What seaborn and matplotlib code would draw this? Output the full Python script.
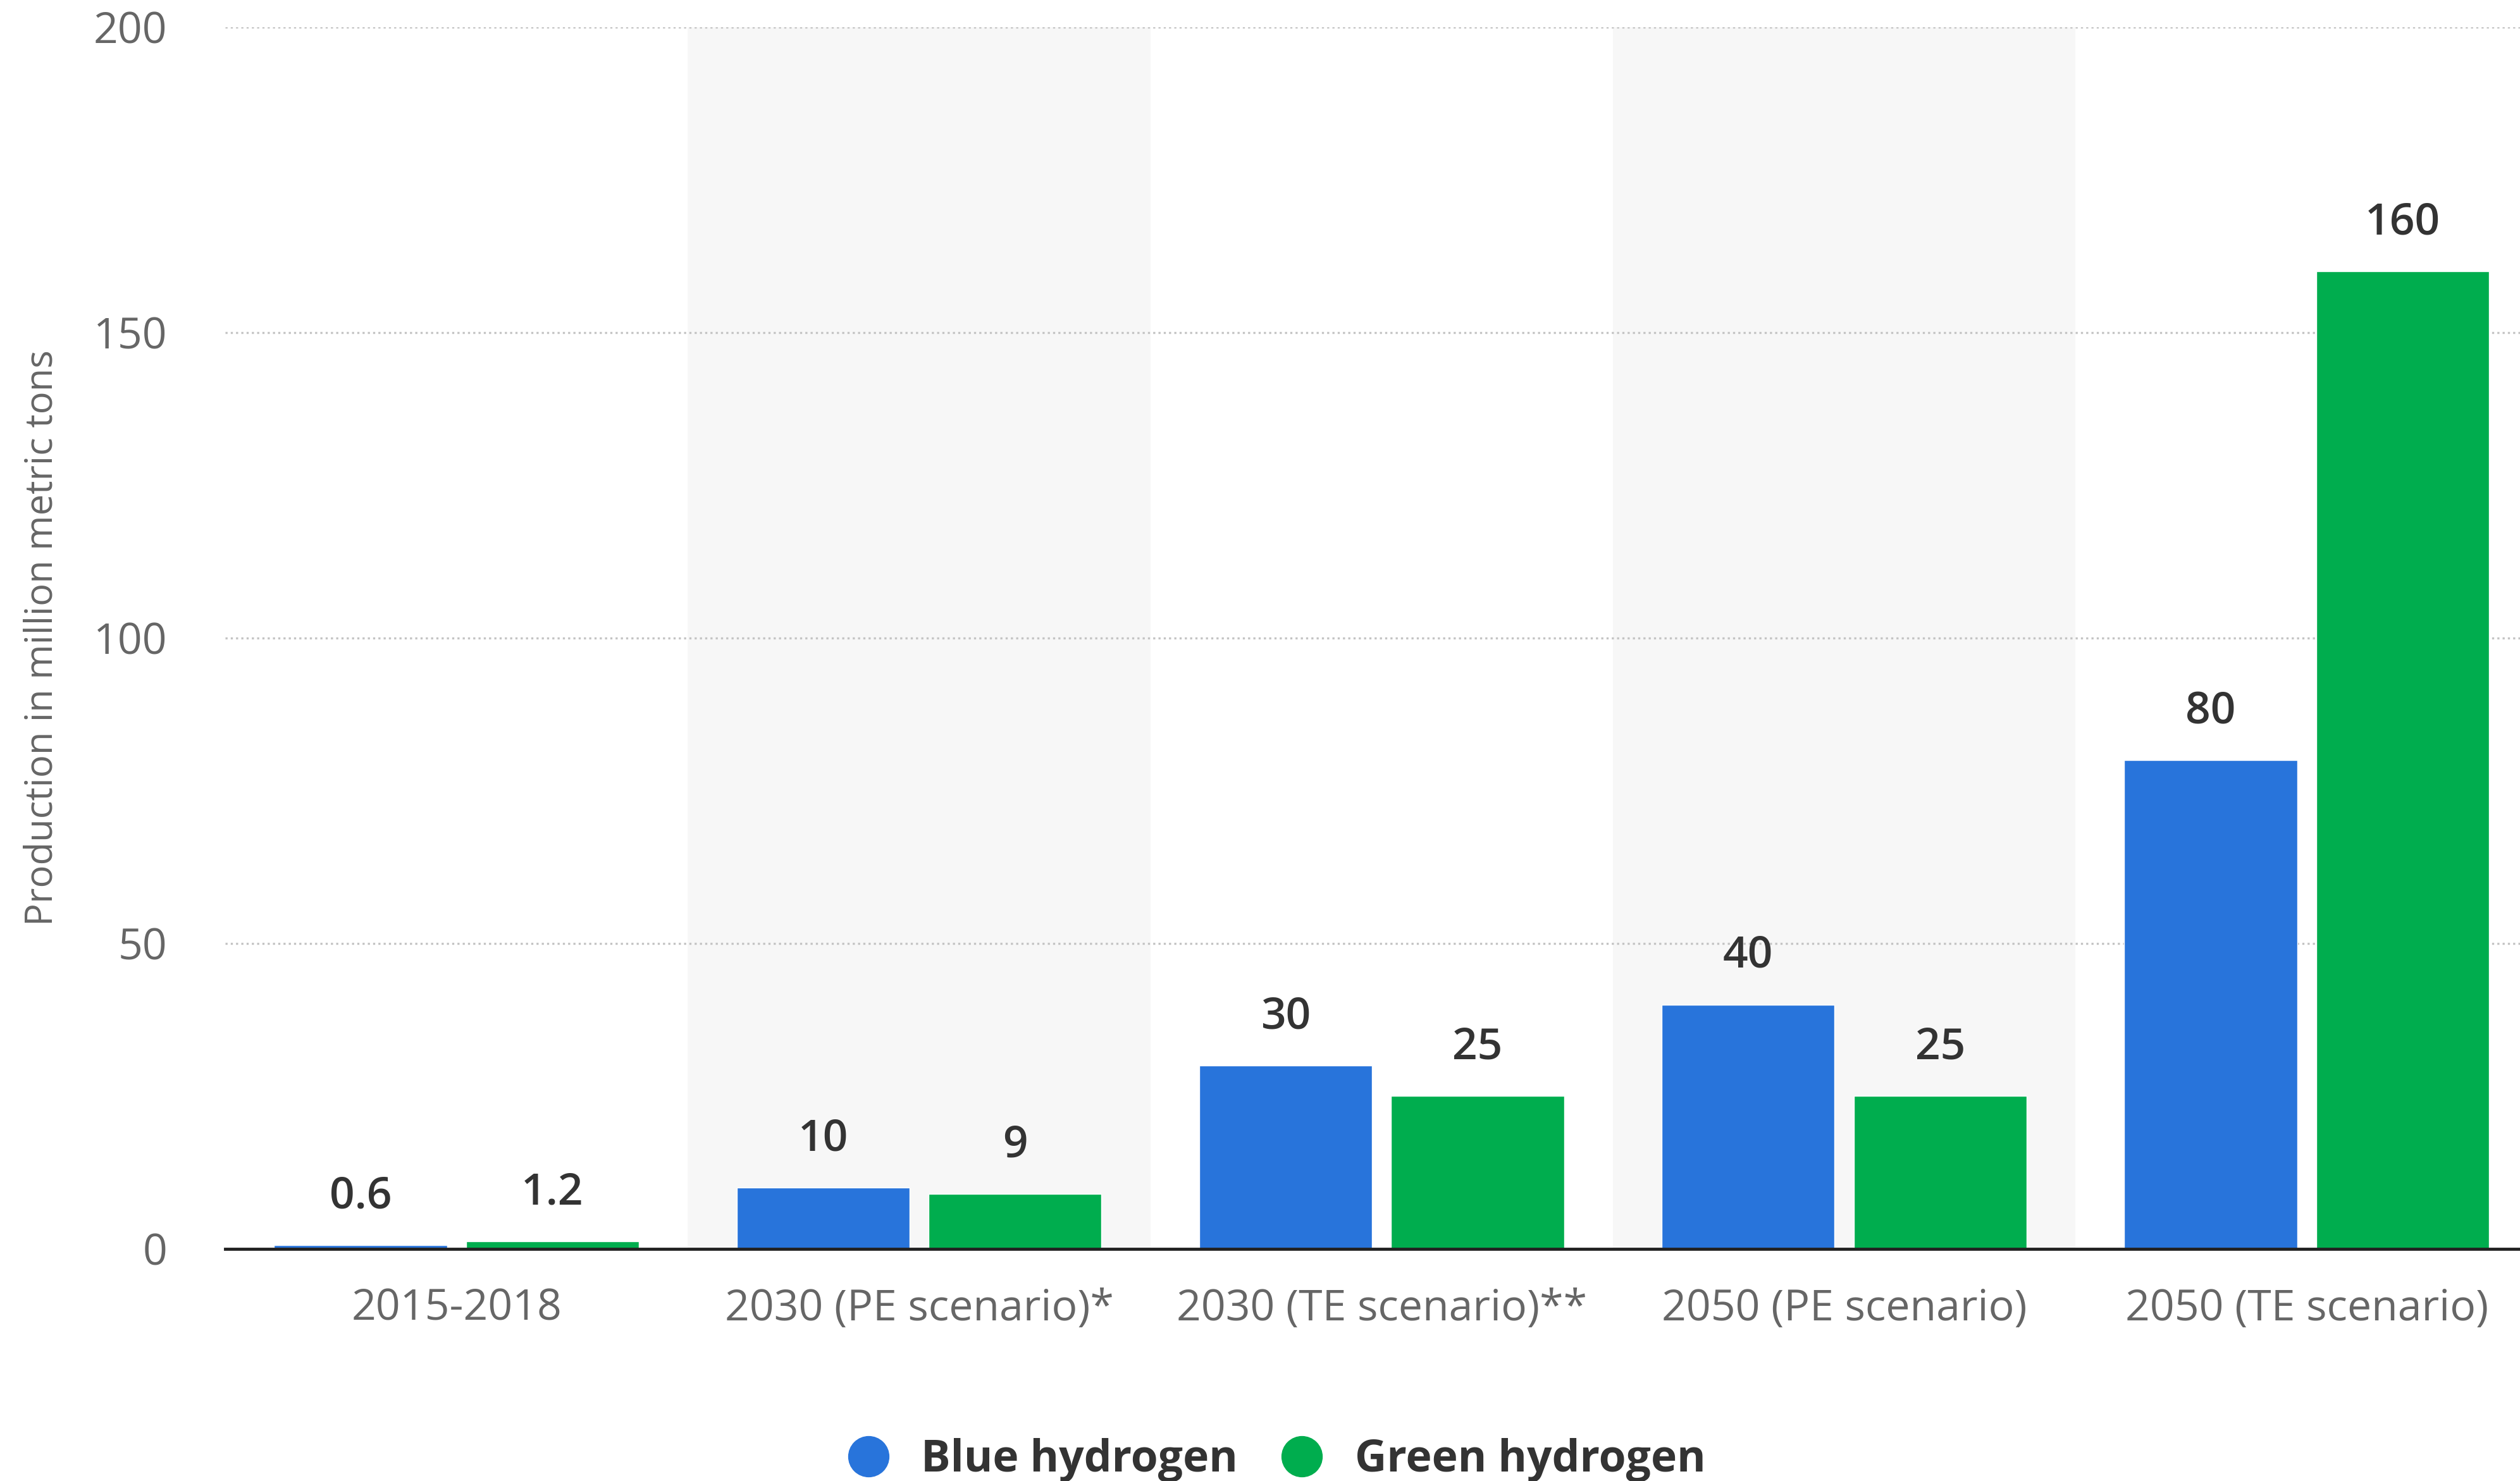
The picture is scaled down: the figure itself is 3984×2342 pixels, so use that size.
import matplotlib
matplotlib.use("Agg")
import matplotlib.pyplot as plt
from matplotlib.lines import Line2D
import seaborn as sns
import pandas as pd

categories = ["2015-2018", "2030 (PE scenario)*", "2030 (TE scenario)**",
              "2050 (PE scenario)", "2050 (TE scenario)"]
blue_values = [0.6, 10, 30, 40, 80]
green_values = [1.2, 9, 25, 25, 160]
series_names = ["Blue hydrogen", "Green hydrogen"]
y_ticks = [0, 50, 100, 150, 200]
y_label = "Production in million metric tons"

colors = {"Blue hydrogen": "#2874DB", "Green hydrogen": "#00AD4E"}

df = pd.DataFrame({
    "category": categories * 2,
    "value": blue_values + green_values,
    "series": [series_names[0]] * len(categories) + [series_names[1]] * len(categories),
})

sns.set_theme(style="white")
plt.rcParams["font.family"] = ["Open Sans", "DejaVu Sans"]

fig = plt.figure(figsize=(39.84, 23.42), dpi=100)
ax = fig.add_axes([0.0894, 0.1567, 0.9177, 0.825])

# alternating background bands
for i in range(len(categories)):
    if i % 2 == 1:
        ax.axvspan(i - 0.5, i + 0.5, color="#f7f7f7", zorder=0, lw=0)

sns.barplot(data=df, x="category", y="value", hue="series", order=categories,
            hue_order=series_names, palette=colors, width=0.83, gap=0.1,
            saturation=1, ax=ax, legend=False, zorder=3)

for cont in ax.containers:
    ax.bar_label(cont, labels=[f"{v:g}" for v in cont.datavalues], padding=30,
                 fontsize=50, color="#333333", fontweight="semibold")

ax.set_xlim(-0.5, len(categories) - 0.5)
ax.set_ylim(0, 200)
ax.set_yticks(y_ticks)
ax.set_yticklabels([str(t) for t in y_ticks])
ax.yaxis.grid(True, linestyle=(0, (1, 1.5)), color="#c4c4c4", linewidth=2.4, zorder=1)
ax.xaxis.grid(False)
ax.set_axisbelow(True)

for s in ["top", "right", "left"]:
    ax.spines[s].set_visible(False)
ax.spines["bottom"].set_color("#222222")
ax.spines["bottom"].set_linewidth(3.5)
ax.spines["bottom"].set_zorder(5)

ax.tick_params(axis="y", length=0, pad=66, labelsize=49, labelcolor="#666666")
ax.tick_params(axis="x", length=0, pad=44, labelsize=49, labelcolor="#666666")
ax.set_xlabel("")
ax.set_ylabel(y_label, fontsize=43, color="#666666")
ax.yaxis.set_label_coords(-0.071, 0.5)

handles = [Line2D([0], [0], marker="o", linestyle="", markersize=46,
                  markerfacecolor=colors[n], markeredgecolor=colors[n]) for n in series_names]
leg = fig.legend(handles, series_names, loc="center", bbox_to_anchor=(0.502, 0.014),
                 ncol=2, frameon=False, handletextpad=0.2, columnspacing=0.46,
                 prop={"size": 50, "weight": "bold"})
for t in leg.get_texts():
    t.set_color("#333333")

fig.savefig("out.png", dpi=100, facecolor="white")
